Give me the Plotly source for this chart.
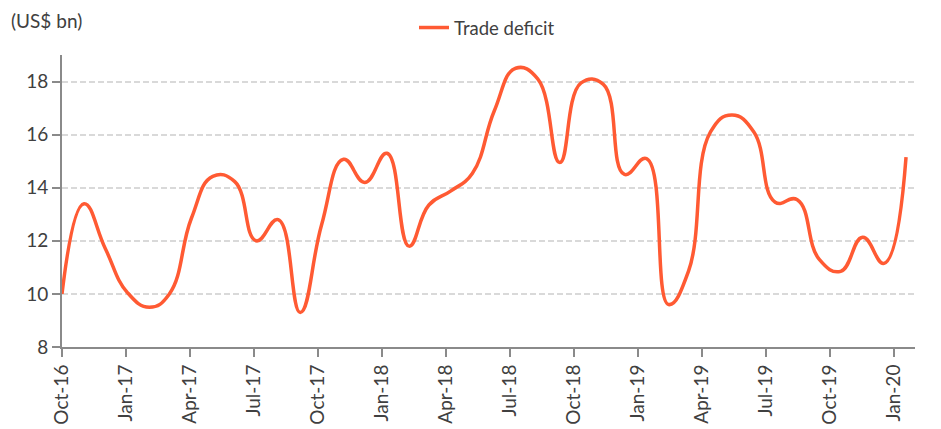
import pandas as pd
import plotly.graph_objects as go

START = "2016-10-01"
N_MONTHS = 40
months = pd.date_range(START, periods=N_MONTHS, freq="MS")

trade_deficit = [
    10.0, 13.4, 11.7, 10.05, 9.5, 10.0, 12.85, 14.43, 14.23, 12.0,
    12.8, 9.3, 12.6, 15.07, 14.2, 15.3, 11.8, 13.35, 13.88, 14.54,
    16.9, 18.5, 18.1, 14.95, 17.95, 17.9, 14.5, 15.1, 9.6, 10.85,
    16.1, 16.74, 16.1, 13.45, 13.55, 11.3, 10.85, 12.13, 11.15, 15.15,
]

tick_labels = [
    "Oct-16", "Jan-17", "Apr-17", "Jul-17", "Oct-17", "Jan-18", "Apr-18",
    "Jul-18", "Oct-18", "Jan-19", "Apr-19", "Jul-19", "Oct-19", "Jan-20",
]
TICK_STEP_DAYS = 90
y_ticks = [8, 10, 12, 14, 16, 18]

start = pd.Timestamp(START)
tick_vals = [start + pd.Timedelta(days=TICK_STEP_DAYS * k) for k in range(len(tick_labels))]
x_end = start + pd.Timedelta(days=1199.6)

FONT = "Lato"
TEXT = "#404040"
LINE = "#FF5A33"
AXIS = "#8a8a8a"
W, H = 941, 429
PAGE_OFFSET = 8  # default body margin of the html page
# plot area as seen in the window
PL, PR, PT, PB = 62, 915, 55, 347
PW, PH = PR - PL, PB - PT
ML = PL - PAGE_OFFSET
MT = PT - PAGE_OFFSET
MR = W - (PR - PAGE_OFFSET)
MB = H - (PB - PAGE_OFFSET)

fig = go.Figure()
fig.add_trace(go.Scatter(
    x=months, y=trade_deficit, mode="lines", name="Trade deficit",
    line=dict(color=LINE, width=3.5, shape="spline", smoothing=1.3),
))

fig.update_layout(
    width=W, height=H,
    margin=dict(l=ML, r=MR, t=MT, b=MB, autoexpand=False),
    paper_bgcolor="white", plot_bgcolor="white",
    font=dict(family=FONT, size=17, color=TEXT),
    showlegend=True,
    legend=dict(orientation="h", xref="paper", yref="paper",
                x=(487 - PL) / PW, xanchor="center", y=(PB - 28) / PH, yanchor="middle",
                font=dict(size=18.5, color=TEXT)),
    annotations=[dict(text="(US$ bn)", xref="paper", yref="paper",
                      x=(9 - PL) / PW, xanchor="left", y=(PB - 20) / PH, yanchor="middle",
                      showarrow=False, font=dict(size=19, color=TEXT))],
)

fig.update_xaxes(
    range=[start, x_end], tickmode="array", tickvals=tick_vals, ticktext=tick_labels,
    tickangle=-90, ticks="outside", ticklen=8, tickwidth=2, tickcolor=AXIS,
    showline=True, linecolor=AXIS, linewidth=2, showgrid=False, zeroline=False,
    tickfont=dict(size=19, color=TEXT), automargin=False,
)
fig.update_yaxes(
    range=[8, 19], tickvals=y_ticks, ticks="outside", ticklen=8, tickwidth=2,
    tickcolor=AXIS, showline=True, linecolor=AXIS, linewidth=2,
    showgrid=True, gridcolor="#d9d9d9", griddash="6px,3px", gridwidth=1.6,
    zeroline=False, tickfont=dict(size=19, color=TEXT), automargin=False,
)

fig.write_html("out.html")
